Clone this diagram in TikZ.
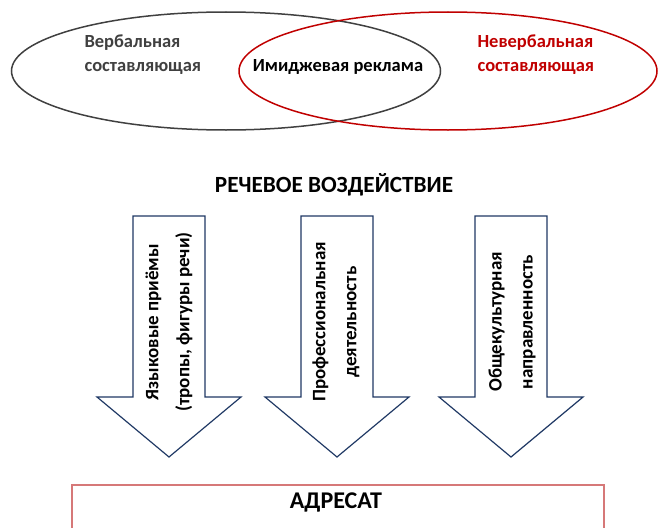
\documentclass[tikz,border=0pt]{standalone}
\usepackage{fontspec}
\setmainfont{Carlito}
\usetikzlibrary{shapes.geometric}

\definecolor{darkred}{RGB}{192,0,0}
\definecolor{darkgrey}{RGB}{64,64,64}
\definecolor{navy}{RGB}{31,56,100}
\definecolor{pinkline}{RGB}{214,120,120}

\tikzset{
    verbal/.style={ellipse,draw=darkgrey,line width=1.5pt,minimum width=429,minimum height=118},
    nonverbal/.style={ellipse,draw=darkred,line width=1.5pt,minimum width=418,minimum height=118},
    label/.style={font=\fontsize{18.5}{24}\selectfont\bfseries,align=left},
    vtext/.style={font=\fontsize{19}{31}\selectfont\bfseries,align=center,rotate=90},
    bigarrow/.style={draw=navy,line width=1.2pt,fill=white,line join=miter},
    addressee/.style={draw=pinkline,line width=1.4pt,minimum width=532,minimum height=60}
    }

\begin{document}
\begin{tikzpicture}[x=1pt, y=-1pt]
                \useasboundingbox (0,0) rectangle (658,527);
                % The two components
                \node(verb)[verbal] at (226,71){};
                \node(nonverb)[nonverbal] at (448,71){};
                \node(verbtext)[label, text=darkgrey, anchor=west] at (81,55){Вербальная\\составляющая};
                \node(nonverbtext)[label, text=darkred, anchor=west] at (474,55){Невербальная\\составляющая};
                \node(image)[label] at (338,67){Имиджевая реклама};
                % Speech influence
                \node(speech)[font=\fontsize{23.2}{25}\selectfont\bfseries] at (334,185){РЕЧЕВОЕ ВОЗДЕЙСТВИЕ};
                \foreach \x in {169,337,511}
                    \draw[bigarrow] (\x-36,216) -- (\x+36,216) -- (\x+36,397) -- (\x+72,397)
                        -- (\x,457) -- (\x-72,397) -- (\x-36,397) -- cycle;
                \node(lang)[vtext] at (169,322){Языковые приёмы\\(тропы, фигуры речи)};
                \node(prof)[vtext] at (336,322){Профессиональная\\деятельность};
                \node(cult)[vtext] at (512,322){Общекультурная\\направленность};
                % The addressee
                \node(adr)[addressee] at (338,515){};
                \node(adrtext)[font=\fontsize{24}{26}\selectfont\bfseries] at (336,502){АДРЕСАТ};
            \end{tikzpicture}
\end{document}
